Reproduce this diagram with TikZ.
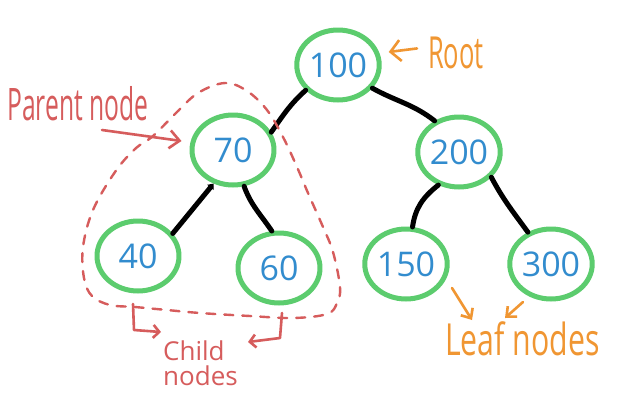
\documentclass[tikz,border=0pt]{standalone}
\usepackage{fontspec}
\usepackage{graphicx}
\setmainfont{Open Sans}
\usetikzlibrary{shapes.geometric,arrows.meta,calc}

\definecolor{ringgreen}{RGB}{92,204,110}
\definecolor{numblue}{RGB}{50,140,206}
\definecolor{notered}{RGB}{214,92,92}
\definecolor{noteorange}{RGB}{240,150,50}

\begin{document}
\begin{tikzpicture}[x=1pt,y=-1pt,line cap=round,line join=round,
  treenode/.style={ellipse,draw=ringgreen,line width=5pt,
    minimum width=82pt,minimum height=70pt,inner sep=0pt,
    text=numblue,font=\fontsize{34}{36}\selectfont},
  branch/.style={line width=5pt,black},
  hull/.style={notered,line width=2.4pt,dash pattern=on 9pt off 9pt},
  rednote/.style={notered,line width=2.6pt},
  orangenote/.style={noteorange,line width=2.6pt},
  caption/.style={inner sep=0pt,anchor=base west},
]
% canvas
\fill[white] (0,0) rectangle (619,405);
\useasboundingbox (0,0) rectangle (619,405);

% tree nodes
\node[treenode] (n100) at (338,65)  {100};
\node[treenode] (n70)  at (233,150) {70};
\node[treenode] (n200) at (459,152) {200};
\node[treenode] (n40)  at (138,256) {40};
\node[treenode] (n60)  at (279,268) {60};
\node[treenode] (n150) at (406,264) {150};
\node[treenode] (n300) at (551,264) {300};

% branches
\draw[branch] (n100.218) to[out=222,in=55] (n70.25);
\draw[branch] (n100.326) to[out=-29,in=142] (n200.128);
\draw[branch,-{Triangle[length=5pt,width=8pt]}] (n40.33) -- (n70.240);
\draw[branch] (n70.287) to[out=-70,in=124] (n60.101);
\draw[branch] (n200.238) to[out=218,in=82] (n150.80);
\draw[branch] (n200.322) to[out=-62,in=126] (n300.126);

% dashed hull around the subtree of 70
\draw[hull] plot[smooth cycle,tension=0.6] coordinates {
  (110,305) (92,296) (84,278) (83,247) (93,210) (115,172) (135,149)
  (153,136) (176,113) (198,93) (225,83) (247,91) (267,110) (283,137)
  (297,167) (308,193) (323,227) (333,252) (340,287) (337,303) (327,314)
  (293,318) (250,316) (200,313) (167,310) (135,307)};

% annotations
\node[caption,text=notered] (parent) at (7,120)
  {\fontsize{32}{34}\selectfont\scalebox{0.77}[1.4]{Parent node}};
\coordinate (parenttail) at (102,130);
\draw[rednote,-{Straight Barb[length=10pt,width=18pt]}]
  (parenttail) -- ($(n70.west)+(-8,-9)$);

% two-line caption; its base anchor sits on the last line
\node[caption,text=notered,align=left,
  font=\fontsize{26}{25}\selectfont] (child) at (163,385) {Child\\nodes};
\coordinate (lefttail) at (133,304);
\coordinate (righttail) at (282,313);
\draw[rednote,-{Straight Barb[length=6pt,width=13pt]}]
  (lefttail) -- (134,330) -- (161,332);
\draw[rednote,-{Straight Barb[length=6pt,width=13pt]}]
  (righttail) -- (280,338) -- (248,342);

\node[caption,text=noteorange] (root) at (428,68)
  {\fontsize{34}{36}\selectfont\scalebox{0.75}[1.3]{Root}};
\draw[orangenote,-{Straight Barb[length=10pt,width=21pt]}]
  ($(root.west)+(-11,-4)$) -- ($(n100.east)+(7,-13)$);

\node[caption,text=noteorange] (leaf) at (445,355)
  {\fontsize{34}{36}\selectfont\scalebox{0.89}[1.3]{Leaf nodes}};
\coordinate (leaftailA) at (452,288);
\coordinate (leaftailB) at (523,302);
\draw[orangenote,-{Straight Barb[length=8pt,width=14pt]}]
  (leaftailA) -- (472,320);
\draw[orangenote,-{Straight Barb[length=8pt,width=14pt]}]
  (leaftailB) -- (505,318);
\end{tikzpicture}
\end{document}
